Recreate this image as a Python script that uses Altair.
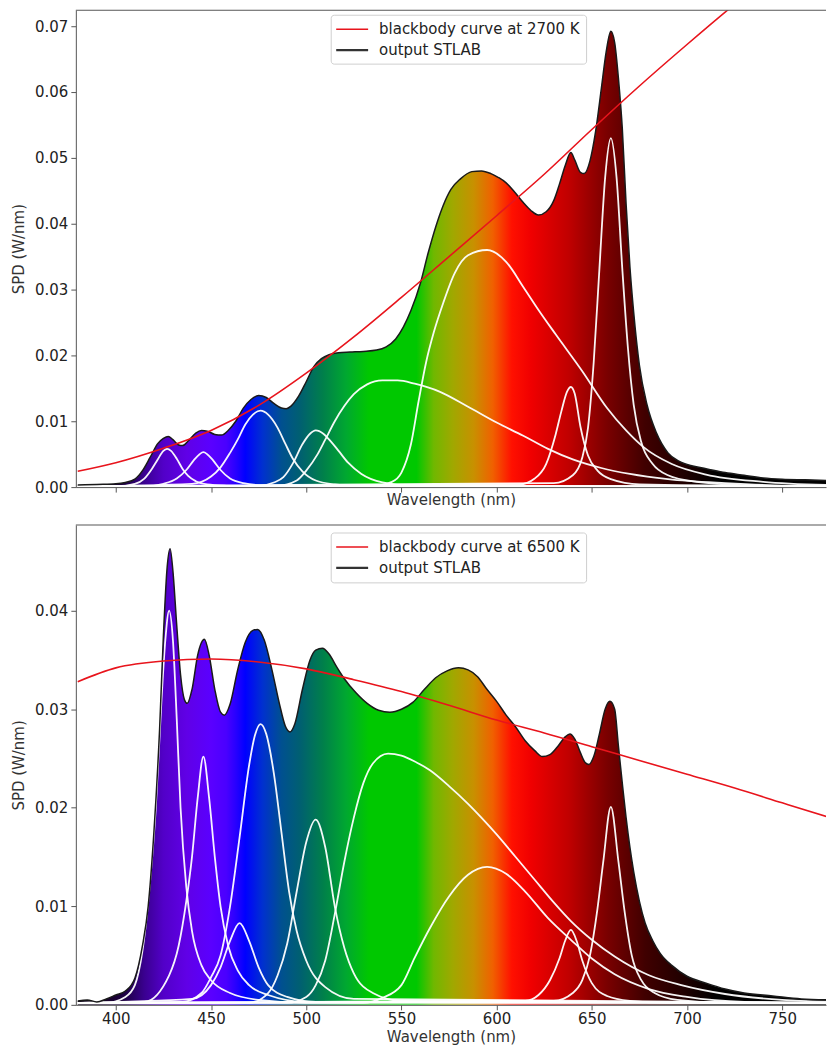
import altair as alt
import pandas as pd

# ---------------- panel 1 : 2700 K ----------------
top_out_wl = [380, 390, 400, 405, 410, 414, 418, 422, 425, 427.5, 430, 433, 435, 438, 442,
              445, 448, 452, 455.5, 459, 463, 467, 471, 475, 479, 483, 487, 489.5, 492, 496,
              500, 504, 508, 512, 517, 523, 530, 537, 542, 547, 551, 555, 560, 564, 568,
              572, 576, 581, 587, 592, 597, 601, 605, 610, 614, 618, 622, 626, 630, 633,
              636, 639, 641, 644, 646, 649, 652, 655, 657.5, 660, 662, 664, 666, 668, 670,
              672, 675, 679, 684, 690, 696, 703, 710, 720, 730, 740, 750, 762, 775]
top_out_spd = [0.0003, 0.0004, 0.0005, 0.0007, 0.0012, 0.0025, 0.0045, 0.0066, 0.0074, 0.0077,
               0.0072, 0.0064, 0.0063, 0.0070, 0.0082, 0.0086, 0.0085, 0.0080, 0.0079, 0.0086,
               0.0100, 0.0120, 0.0133, 0.0139, 0.0136, 0.0127, 0.0120, 0.0119, 0.0123, 0.0138,
               0.0160, 0.0183, 0.0195, 0.0201, 0.0204, 0.0205, 0.0206, 0.0208, 0.0213, 0.0225,
               0.0243, 0.0268, 0.0310, 0.0355, 0.0395, 0.0428, 0.0452, 0.0468, 0.0479, 0.0480,
               0.0476, 0.0470, 0.0462, 0.0446, 0.0432, 0.0420, 0.0413, 0.0418, 0.0435, 0.0460,
               0.0488, 0.0508, 0.0497, 0.0478, 0.0476, 0.0495, 0.0540, 0.0605, 0.0660, 0.0692,
               0.0675, 0.0620, 0.0545, 0.0430, 0.0335, 0.0265, 0.0185, 0.0125, 0.0082, 0.0052,
               0.0039, 0.0032, 0.0028, 0.0022, 0.0018, 0.0014, 0.0012, 0.0011, 0.0010]

top_bb_wl = [380, 400, 425, 450, 475, 500, 525, 550, 575, 600, 625, 650, 675, 700, 725, 750, 775]
top_bb_spd = [0.0024, 0.0037, 0.0059, 0.0086, 0.0124, 0.0173, 0.0228, 0.0288, 0.0350, 0.0412,
              0.0475, 0.0543, 0.0609, 0.0672, 0.0733, 0.0790, 0.0845]

t1_wl = [380, 400, 410, 415, 419, 422, 425, 427, 429, 432, 435, 438, 442, 448, 458, 475, 775]
t1_val = [0.0001, 0.0001, 0.0005, 0.0013, 0.0028, 0.0042, 0.0055, 0.0058, 0.0055, 0.0043,
          0.0028, 0.0017, 0.0009, 0.0004, 0.0002, 0.0001, 0.0001]
t2_wl = [380, 415, 425, 432, 437, 441, 444, 446, 448, 451, 455, 460, 467, 480, 500, 775]
t2_val = [0.0001, 0.0001, 0.0005, 0.0013, 0.0026, 0.0041, 0.0050, 0.0053, 0.0050, 0.0041,
          0.0026, 0.0013, 0.0006, 0.0002, 0.0001, 0.0001]
t3_wl = [380, 440, 450, 455, 460, 464, 468, 472, 476, 480, 485, 489, 493, 498, 505, 515, 530, 775]
t3_val = [0.0001, 0.0005, 0.0016, 0.0030, 0.0052, 0.0072, 0.0095, 0.0110, 0.0116, 0.0110,
          0.0090, 0.0066, 0.0043, 0.0024, 0.0010, 0.0004, 0.0001, 0.0001]
t4_wl = [380, 475, 483, 488, 493, 498, 502, 505, 509, 513, 517, 522, 529, 540, 555, 775]
t4_val = [0.0001, 0.0002, 0.0007, 0.0015, 0.0036, 0.0065, 0.0081, 0.0086, 0.0081, 0.0069,
          0.0055, 0.0037, 0.0020, 0.0007, 0.0002, 0.0001]
t5_wl = [380, 485, 495, 500, 506, 510, 515, 520, 525, 532, 540, 548, 557, 570, 585, 600, 614,
         627, 640, 655, 670, 690, 720, 760, 775]
t5_val = [0.0001, 0.0002, 0.0010, 0.0025, 0.0050, 0.0072, 0.0100, 0.0123, 0.0141, 0.0156,
          0.0162, 0.0162, 0.0157, 0.0145, 0.0122, 0.0098, 0.0078, 0.0058, 0.0042, 0.0029,
          0.0020, 0.0012, 0.0006, 0.0002, 0.0002]
t6_wl = [380, 535, 545, 550, 555, 559, 563, 567, 572, 578, 585, 595, 605, 614, 622, 631, 645,
         658, 668, 677, 692, 710, 740, 775]
t6_val = [0.0001, 0.0002, 0.0008, 0.0022, 0.0065, 0.0130, 0.0190, 0.0235, 0.0280, 0.0325,
          0.0352, 0.0360, 0.0342, 0.0304, 0.0269, 0.0232, 0.0176, 0.0120, 0.0086, 0.0061,
          0.0035, 0.0019, 0.0008, 0.0003]
t7_wl = [380, 612, 620, 626, 631, 634, 637, 639, 641, 644, 648, 653, 660, 675, 775]
t7_val = [0.0001, 0.0004, 0.0013, 0.0035, 0.0080, 0.0115, 0.0145, 0.0152, 0.0142, 0.0092,
          0.0048, 0.0025, 0.0012, 0.0004, 0.0001]
t8_wl = [380, 630, 640, 645, 648, 651, 654, 657, 660, 663, 666, 669, 672, 676, 682, 690, 705,
         730, 775]
t8_val = [0.0001, 0.0006, 0.0018, 0.0045, 0.0090, 0.0190, 0.0332, 0.0470, 0.0530, 0.0470,
          0.0332, 0.0210, 0.0125, 0.0068, 0.0035, 0.0018, 0.0008, 0.0003, 0.0001]

# ---------------- panel 2 : 6500 K ----------------
bot_out_wl = [380, 385, 390, 395, 400, 405, 410, 414, 417, 420, 423, 425, 427, 428.5, 430,
              432, 434, 436, 437.5, 440, 443, 446.5, 449, 452, 455, 457, 460, 464, 468, 472,
              474.5, 478, 482, 486, 489, 491.5, 494, 498, 502, 505, 508.5, 512, 516, 520, 526,
              532, 538, 544, 550, 556, 562, 568, 574, 580, 585, 590, 595, 600, 605, 610,
              615, 620, 624, 628, 632, 636, 638.5, 641, 644, 646.5, 648.5, 651, 654, 657, 659.5,
              662, 664, 666, 668, 670, 672, 675, 678, 682, 686, 692, 700, 710, 720, 730,
              745, 760, 775]
bot_out_spd = [0.0004, 0.0005, 0.0003, 0.0006, 0.0010, 0.0014, 0.0027, 0.0060, 0.0100, 0.0175,
               0.0280, 0.0375, 0.0445, 0.0463, 0.0440, 0.0385, 0.0335, 0.0310, 0.0306, 0.0320,
               0.0355, 0.0371, 0.0355, 0.0320, 0.0297, 0.0294, 0.0305, 0.0340, 0.0368, 0.0380,
               0.0381, 0.0370, 0.0340, 0.0305, 0.0283, 0.0277, 0.0285, 0.0320, 0.0350, 0.0360,
               0.0362, 0.0356, 0.0343, 0.0331, 0.0317, 0.0306, 0.0299, 0.0297, 0.0300, 0.0307,
               0.0320, 0.0332, 0.0339, 0.0342, 0.0340, 0.0333, 0.0320, 0.0308, 0.0294, 0.0282,
               0.0268, 0.0258, 0.0252, 0.0254, 0.0262, 0.0272, 0.0275, 0.0270, 0.0256, 0.0246,
               0.0244, 0.0252, 0.0275, 0.0300, 0.0308, 0.0300, 0.0262, 0.0225, 0.0190, 0.0160,
               0.0135, 0.0105, 0.0083, 0.0065, 0.0052, 0.0040, 0.0029, 0.0022, 0.0016, 0.0012,
               0.0009, 0.0006, 0.0005]

bot_bb_wl = [380, 400, 425, 450, 475, 500, 525, 550, 575, 600, 625, 650, 675, 700, 725, 750, 775]
bot_bb_spd = [0.0328, 0.0342, 0.0349, 0.0351, 0.0348, 0.0341, 0.0330, 0.0318, 0.0304, 0.0289,
              0.0276, 0.0262, 0.0248, 0.0234, 0.0220, 0.0205, 0.0190]

b1_wl = [380, 395, 405, 410, 414, 418, 421, 424, 426, 428, 430, 432, 434, 437, 440, 445, 450,
         460, 475, 500, 775]
b1_val = [0.0002, 0.0002, 0.0008, 0.0020, 0.0055, 0.0125, 0.0200, 0.0310, 0.0370, 0.0400,
          0.0370, 0.0290, 0.0200, 0.0120, 0.0075, 0.0040, 0.0025, 0.0012, 0.0005, 0.0002, 0.0002]
b2_wl = [380, 415, 428, 433, 437, 440, 443, 446, 449, 452, 455, 459, 464, 470, 480, 500, 775]
b2_val = [0.0002, 0.0003, 0.0030, 0.0060, 0.0105, 0.0150, 0.0210, 0.0252, 0.0210, 0.0150,
          0.0100, 0.0060, 0.0035, 0.0020, 0.0010, 0.0003, 0.0002]
b3_wl = [380, 440, 450, 455, 460, 465, 470, 475, 480, 490, 505, 775]
b3_val = [0.0002, 0.0006, 0.0020, 0.0038, 0.0065, 0.0083, 0.0065, 0.0038, 0.0020, 0.0008,
          0.0003, 0.0002]
b4_wl = [380, 435, 445, 450, 455, 460, 465, 470, 473, 476, 479, 483, 487, 491, 495, 500, 510,
         525, 775]
b4_val = [0.0002, 0.0003, 0.0012, 0.0028, 0.0050, 0.0100, 0.0170, 0.0243, 0.0273, 0.0285,
          0.0275, 0.0235, 0.0175, 0.0115, 0.0075, 0.0045, 0.0018, 0.0006, 0.0002]
b5_wl = [380, 470, 480, 485, 490, 495, 500, 505, 510, 515, 520, 525, 535, 550, 775]
b5_val = [0.0002, 0.0002, 0.0012, 0.0030, 0.0062, 0.0115, 0.0165, 0.0188, 0.0160, 0.0100,
          0.0058, 0.0032, 0.0012, 0.0004, 0.0002]
b6_wl = [380, 490, 500, 505, 510, 515, 520, 525, 530, 535, 543, 550, 557, 565, 575, 585, 592,
         600, 610, 620, 630, 639, 650, 662, 680, 697, 720, 750, 775]
b6_val = [0.0002, 0.0002, 0.0008, 0.0020, 0.0045, 0.0092, 0.0145, 0.0190, 0.0225, 0.0245,
          0.0255, 0.0253, 0.0247, 0.0238, 0.0222, 0.0204, 0.0190, 0.0173, 0.0150, 0.0127,
          0.0104, 0.0085, 0.0066, 0.0049, 0.0030, 0.0020, 0.0011, 0.0005, 0.0003]
b7_wl = [380, 530, 540, 550, 557, 565, 575, 585, 595, 605, 615, 627, 639, 650, 662, 680, 700,
         730, 775]
b7_val = [0.0002, 0.0002, 0.0007, 0.0020, 0.0048, 0.0078, 0.0110, 0.0132, 0.0140, 0.0133,
          0.0115, 0.0088, 0.0066, 0.0047, 0.0031, 0.0016, 0.0008, 0.0003, 0.0002]
b8_wl = [380, 615, 622, 628, 633, 636, 639, 642, 645, 650, 658, 670, 690, 775]
b8_val = [0.0002, 0.0004, 0.0010, 0.0025, 0.0047, 0.0065, 0.0076, 0.0065, 0.0045, 0.0022,
          0.0009, 0.0004, 0.0002, 0.0002]
b9_wl = [380, 630, 640, 645, 649, 653, 656, 660, 664, 667, 671, 676, 683, 695, 720, 775]
b9_val = [0.0002, 0.0004, 0.0012, 0.0025, 0.0050, 0.0098, 0.0145, 0.0201, 0.0145, 0.0098,
          0.0050, 0.0025, 0.0012, 0.0005, 0.0002, 0.0002]

# axes / labels
x_ticks = [400, 450, 500, 550, 600, 650, 700, 750]
top_y_ticks = [0.0, 0.01, 0.02, 0.03, 0.04, 0.05, 0.06, 0.07]
bot_y_ticks = [0.0, 0.01, 0.02, 0.03, 0.04]
top_legend = ["blackbody curve at 2700 K", "output STLAB"]
bot_legend = ["blackbody curve at 6500 K", "output STLAB"]

# spectral colour stops (style)
spec_nm = [380, 395, 405, 415, 425, 437, 450, 458, 463, 468, 477, 487, 497, 509, 521, 533,
           558, 567, 577, 588, 598, 608, 618, 638, 658, 678, 698, 715, 775]
spec_col = ['#0a0012', '#150028', '#1e0045', '#3a0090', '#5200c8', '#6000e6', '#5a00ff',
            '#4a00ff', '#2800ff', '#0000ff', '#0030d0', '#005090', '#006070', '#00804a',
            '#00a830', '#00c800', '#00c800', '#70b800', '#a0a800', '#c89000', '#f06000',
            '#ff1000', '#f00000', '#c00000', '#7a0000', '#400000', '#200000', '#000000',
            '#000000']

W = 752
X_DOMAIN = [379, 773]
FONT = "DejaVu Sans"
RED = "#e8141c"


def panel(out_wl, out_spd, bb_wl, bb_spd, comps, ydom, yticks, h, legend, xlabels, leg):
    out_df = pd.DataFrame({"wl": out_wl, "v": out_spd})
    bb_df = pd.DataFrame({"wl": bb_wl, "v": bb_spd})
    rows = []
    for i, (cw, cv) in enumerate(comps):
        for a, b in zip(cw, cv):
            rows.append({"wl": a, "v": b, "c": i})
    comp_df = pd.DataFrame(rows)

    lo, hi = out_wl[0], out_wl[-1]
    stops = [alt.GradientStop(offset=(n - lo) / (hi - lo), color=c)
             for n, c in zip(spec_nm, spec_col)]
    grad = alt.Gradient(gradient="linear", stops=stops, x1=0, x2=1, y1=0, y2=0)

    x = alt.X("wl:Q", scale=alt.Scale(domain=X_DOMAIN, nice=False, zero=False),
              axis=alt.Axis(values=x_ticks, format="d", labels=xlabels,
                            title="Wavelength (nm)",
                            titlePadding=3 if xlabels else 0, labelPadding=2))
    y = alt.Y("v:Q", scale=alt.Scale(domain=ydom, nice=False, zero=True),
              axis=alt.Axis(values=yticks, format=".2f", title="SPD (W/nm)",
                            titlePadding=8, labelPadding=3))

    fill = alt.Chart(out_df).mark_area(interpolate="monotone", clip=True,
                                       color=grad).encode(x=x, y=y)
    comp = alt.Chart(comp_df).mark_line(interpolate="monotone", clip=True, color="white",
                                        strokeWidth=1.8, opacity=0.95).encode(
        x=x, y=y, detail="c:N")
    outl = alt.Chart(out_df).mark_line(interpolate="monotone", clip=True, color="#1a1a1a",
                                       strokeWidth=1.5).encode(x=x, y=y)
    bb = alt.Chart(bb_df).mark_line(interpolate="monotone", clip=True, color=RED,
                                    strokeWidth=1.6).encode(x=x, y=y)

    one = pd.DataFrame({"k": [0]})
    top_rule = alt.Chart(one).mark_rule(color="#555", strokeWidth=1).encode(
        x=alt.value(0), x2=alt.value(W), y=alt.value(0))
    bx0, bx1, by0, by1, r1, r2 = leg
    box = alt.Chart(one).mark_rect(fill="white", fillOpacity=0.85, stroke="#cfcfcf",
                                   strokeWidth=1, cornerRadius=3).encode(
        x=alt.value(bx0), x2=alt.value(bx1), y=alt.value(by0), y2=alt.value(by1))
    l1 = alt.Chart(one).mark_rule(color=RED, strokeWidth=1.6).encode(
        x=alt.value(bx0 + 5), x2=alt.value(bx0 + 37), y=alt.value(r1))
    l2 = alt.Chart(one).mark_rule(color="#333", strokeWidth=2.2).encode(
        x=alt.value(bx0 + 5), x2=alt.value(bx0 + 37), y=alt.value(r2))
    tx1 = alt.Chart(one).mark_text(text=legend[0], align="left", baseline="middle",
                                   font=FONT, fontSize=15, color="#222").encode(
        x=alt.value(bx0 + 48), y=alt.value(r1))
    tx2 = alt.Chart(one).mark_text(text=legend[1], align="left", baseline="middle",
                                   font=FONT, fontSize=15, color="#222").encode(
        x=alt.value(bx0 + 48), y=alt.value(r2))

    return alt.layer(fill, comp, outl, bb, top_rule, box, l1, l2, tx1, tx2).properties(
        width=W, height=h)


top_comps = [(t1_wl, t1_val), (t2_wl, t2_val), (t3_wl, t3_val), (t4_wl, t4_val),
             (t5_wl, t5_val), (t6_wl, t6_val), (t7_wl, t7_val), (t8_wl, t8_val)]
bot_comps = [(b1_wl, b1_val), (b2_wl, b2_val), (b3_wl, b3_val), (b4_wl, b4_val),
             (b5_wl, b5_val), (b6_wl, b6_val), (b7_wl, b7_val), (b8_wl, b8_val),
             (b9_wl, b9_val)]

top = panel(top_out_wl, top_out_spd, top_bb_wl, top_bb_spd, top_comps, [0, 0.0724],
            top_y_ticks, 478, top_legend, False, (256, 512, 5, 54, 19, 40))
bot = panel(bot_out_wl, bot_out_spd, bot_bb_wl, bot_bb_spd, bot_comps, [0, 0.0487],
            bot_y_ticks, 481, bot_legend, True, (256, 512, 8, 58, 22, 43))

chart = alt.vconcat(top, bot, spacing=16).properties(
    padding={"left": 3, "top": 0, "right": 0, "bottom": 0}
).configure_view(stroke=None).configure_axis(
    grid=False, domainColor="#555", tickColor="#555", domainWidth=1, tickWidth=1,
    tickSize=5, labelFont=FONT, titleFont=FONT, labelFontSize=15, titleFontSize=15,
    titleFontWeight="normal", labelColor="#222", titleColor="#333"
)

chart.save("out.html", embed_options={"renderer": "svg", "actions": False})
